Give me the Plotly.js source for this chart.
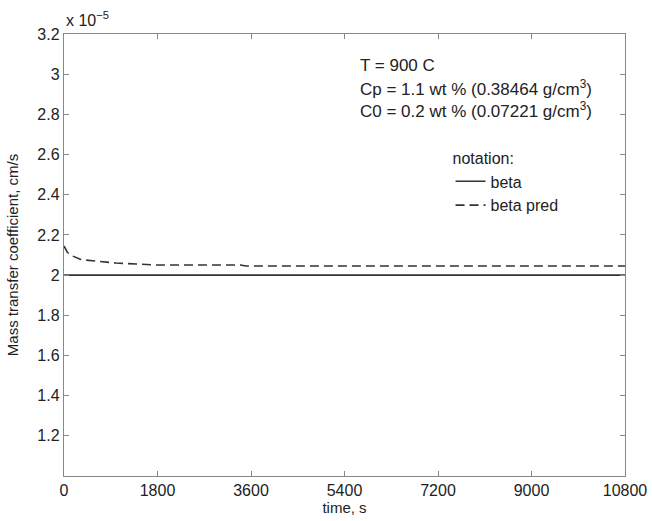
<!DOCTYPE html>
<html>
<head>
<meta charset="utf-8">
<script src="https://cdn.plot.ly/plotly-3.0.1.min.js"></script>
<style>html,body{margin:0;padding:0;background:#fff;}#chart{width:652px;height:521px;}</style>
</head>
<body>
<div id="chart"></div>
<script>
// values in units of 1e-5 cm/s
const timeBeta = [0, 10800];
const beta = [2.0, 2.0];
const timePred = [0, 30, 60, 120, 200, 300, 400, 600, 800, 1000, 1400, 1800, 2400, 3000, 3400, 3500, 4000, 6000, 8000, 10800];
const betaPred = [2.145, 2.13, 2.115, 2.1, 2.09, 2.08, 2.075, 2.07, 2.065, 2.06, 2.055, 2.05, 2.05, 2.05, 2.05, 2.045, 2.045, 2.045, 2.045, 2.045];
const xTicks = [0, 1800, 3600, 5400, 7200, 9000, 10800];
const xTickText = ['0', '1800', '3600', '5400', '7200', '9000', '10800'];
const yTicks = [1.2, 1.4, 1.6, 1.8, 2, 2.2, 2.4, 2.6, 2.8, 3, 3.2];
const yTickText = ['1.2', '1.4', '1.6', '1.8', '2', '2.2', '2.4', '2.6', '2.8', '3', '3.2'];

const family = 'Liberation Sans, Arial, sans-serif';
const font = {family: family, size: 16, color: '#222'};
const noteFont = {family: family, size: 17, color: '#222'};
const titleFont = {family: family, size: 15, color: '#222'};
const traces = [
  {x: timeBeta, y: beta, type: 'scatter', mode: 'lines', name: 'beta',
   line: {color: '#333', width: 1.6}},
  {x: timePred, y: betaPred, type: 'scatter', mode: 'lines', name: 'beta pred',
   line: {color: '#333', width: 1.6, dash: '9px,5px'}}
];
const axisCommon = {
  showline: true, mirror: 'ticks', linecolor: '#888', linewidth: 1.2,
  ticks: 'inside', ticklen: 5, tickcolor: '#888', showgrid: false, zeroline: false,
  tickfont: font
};
const layout = {
  width: 652, height: 521,
  margin: {l: 64, r: 27, t: 34, b: 45},
  paper_bgcolor: '#fff', plot_bgcolor: '#fff',
  font: font,
  showlegend: true,
  legend: {x: 0.689, y: 0.752, xanchor: 'left', yanchor: 'top', bgcolor: 'rgba(0,0,0,0)',
           title: {text: 'notation:', font: font}, font: font, tracegroupgap: 0},
  xaxis: Object.assign({}, axisCommon, {range: [0, 10800], tickvals: xTicks, ticktext: xTickText,
           title: {text: 'time, s', font: titleFont, standoff: 2}}),
  yaxis: Object.assign({}, axisCommon, {range: [1.0, 3.2], tickvals: yTicks, ticktext: yTickText,
           title: {text: 'Mass transfer coefficient, cm/s', font: titleFont, standoff: 15}}),
  annotations: [
    {xref: 'paper', yref: 'paper', x: 0, y: 1, xanchor: 'left', yanchor: 'bottom', yshift: 3,
     showarrow: false, text: 'x 10<sup>\u22125</sup>', font: font},
    {xref: 'paper', yref: 'paper', x: 0.524, y: 0.928, xanchor: 'left', yanchor: 'middle', showarrow: false,
     align: 'left', text: 'T = 900 C', font: noteFont},
    {xref: 'paper', yref: 'paper', x: 0.524, y: 0.878, xanchor: 'left', yanchor: 'middle', showarrow: false,
     align: 'left', text: 'Cp = 1.1 wt % (0.38464 g/cm<sup>3</sup>)', font: noteFont},
    {xref: 'paper', yref: 'paper', x: 0.524, y: 0.828, xanchor: 'left', yanchor: 'middle', showarrow: false,
     align: 'left', text: 'C0 = 0.2 wt % (0.07221 g/cm<sup>3</sup>)', font: noteFont}
  ]
};
Plotly.newPlot('chart', traces, layout, {displayModeBar: false, staticPlot: true});
</script>
</body>
</html>
